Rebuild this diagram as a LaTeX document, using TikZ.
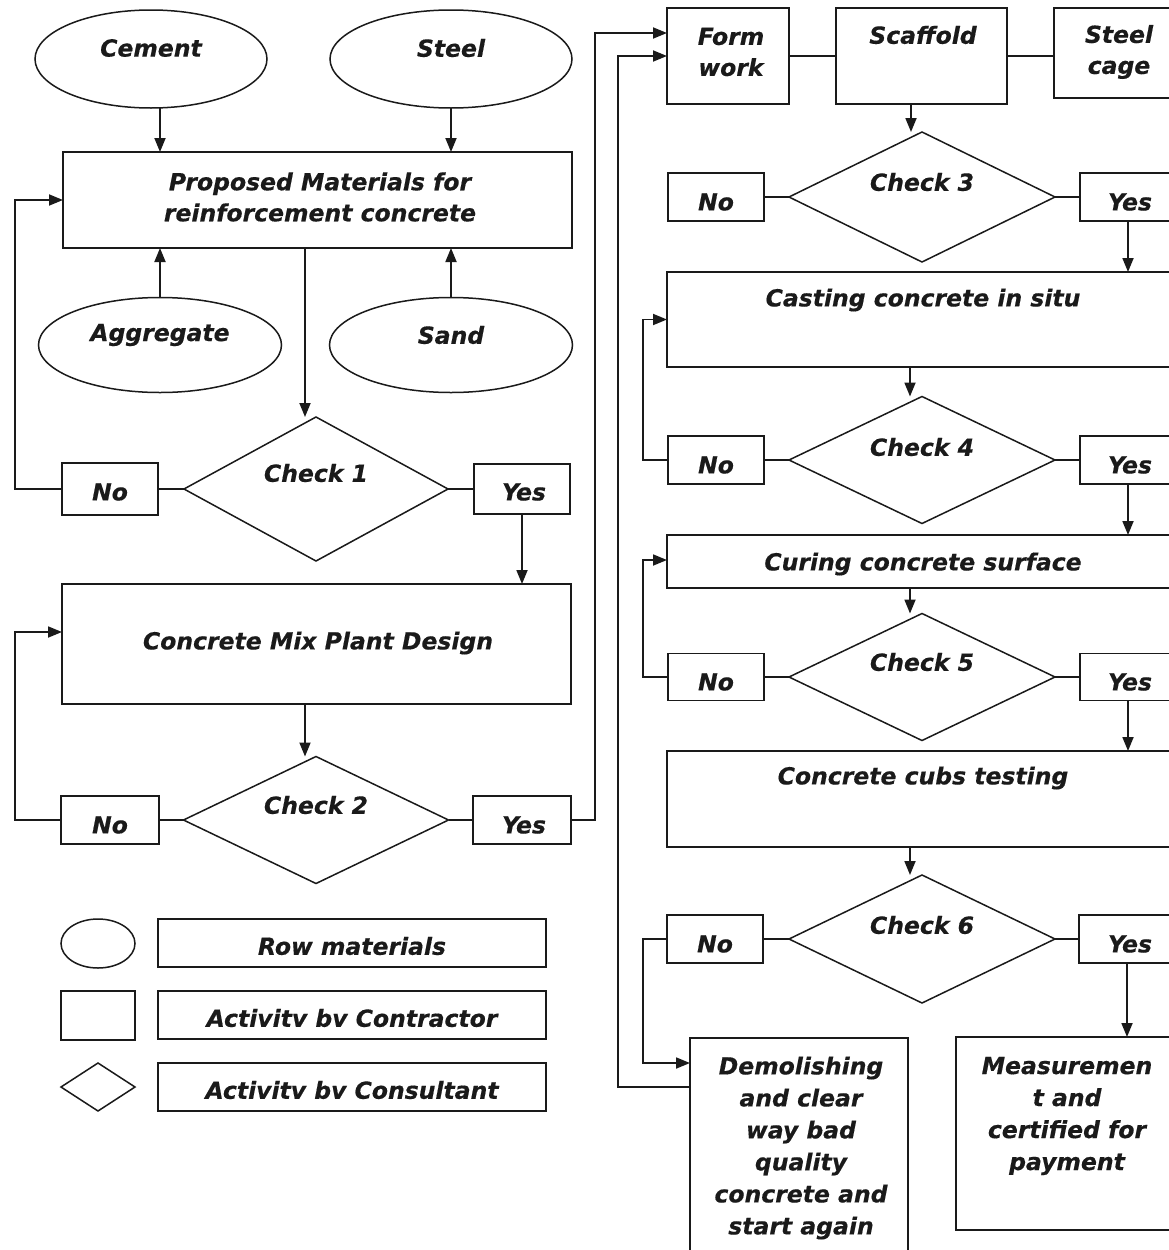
\documentclass[tikz,border=0pt]{standalone}
\usepackage{fontspec}
\setmainfont{DejaVu Sans}[BoldItalicFeatures={FakeBold=0.4}]
\usetikzlibrary{shapes.geometric,arrows.meta,calc}
\definecolor{ink}{HTML}{1A1A1A}
\begin{document}
\begin{tikzpicture}[x=1pt,y=-1pt,
  every node/.style={inner sep=0pt,outer sep=0pt},
  shp/.style={draw=ink,line width=1.8pt},
  box/.style={shp,rectangle},
  ell/.style={shp,ellipse,line width=1.5pt},
  dia/.style={shp,diamond,line width=1.5pt},
  txt/.style={font=\fontsize{23.5}{31}\selectfont\bfseries\itshape,text=ink,align=center},
  txtb/.style={txt,font=\fontsize{23.5}{32}\selectfont\bfseries\itshape},
  ln/.style={draw=ink,line width=1.8pt},
  arr/.style={ln,-{Triangle[length=14pt,width=11pt]}},
]
\useasboundingbox (0,0) rectangle (1169,1250);
\fill[white] (0,0) rectangle (1169,1250);
\clip (0,0) rectangle (1169,1250);

% ---------- left column ----------
\node[ell,minimum width=232,minimum height=98] (cement) at (151,59) {};
\node[ell,minimum width=242,minimum height=98] (steel) at (451,59) {};
\node[box,minimum width=509,minimum height=96] (prop) at (317.5,200) {};
\node[ell,minimum width=243,minimum height=95] (aggr) at (160,345) {};
\node[ell,minimum width=243,minimum height=95] (sand) at (451,345) {};
\node[dia,minimum width=264,minimum height=144] (c1) at (316,489) {};
\node[box,minimum width=96,minimum height=52] (no1) at (110,489) {};
\node[box,minimum width=96,minimum height=50] (yes1) at (522,489) {};
\node[box,minimum width=509,minimum height=120] (mix) at (316.5,644) {};
\node[dia,minimum width=265,minimum height=127] (c2) at (316,820) {};
\node[box,minimum width=98,minimum height=48] (no2) at (110,820) {};
\node[box,minimum width=98,minimum height=48] (yes2) at (522,820) {};

% legend
\node[ell,minimum width=74,minimum height=49] (lell) at (98,943.5) {};
\node[box,minimum width=388,minimum height=48] (lrow) at (352,943) {};
\node[box,minimum width=74,minimum height=49] (lsq) at (98,1015.5) {};
\node[box,minimum width=388,minimum height=48] (lcon) at (352,1015) {};
\node[dia,minimum width=74,minimum height=48] (ldia) at (98,1087) {};
\node[box,minimum width=388,minimum height=48] (lcons) at (352,1087) {};

% ---------- right column ----------
\node[box,minimum width=122,minimum height=96] (form) at (728,56) {};
\node[box,minimum width=171,minimum height=96] (scaf) at (921.5,56) {};
\node[box,minimum width=136,minimum height=90] (cage) at (1122,53) {};
\node[dia,minimum width=266,minimum height=130] (c3) at (922,197) {};
\node[box,minimum width=96,minimum height=48] (no3) at (716,197) {};
\node[box,minimum width=96,minimum height=48] (yes3) at (1128,197) {};
\node[box,minimum width=523,minimum height=95] (cast) at (928.5,319.5) {};
\node[dia,minimum width=266,minimum height=127] (c4) at (922,460) {};
\node[box,minimum width=96,minimum height=48] (no4) at (716,460) {};
\node[box,minimum width=96,minimum height=48] (yes4) at (1128,460) {};
\node[box,minimum width=523,minimum height=53] (cure) at (928.5,561.5) {};
\node[dia,minimum width=266,minimum height=127] (c5) at (922,677) {};
\node[box,minimum width=96,minimum height=47] (no5) at (716,677) {};
\node[box,minimum width=96,minimum height=47] (yes5) at (1128,677) {};
\node[box,minimum width=523,minimum height=96] (cubs) at (928.5,799) {};
\node[dia,minimum width=266,minimum height=128] (c6) at (922,939) {};
\node[box,minimum width=96,minimum height=48] (no6) at (715,939) {};
\node[box,minimum width=96,minimum height=48] (yes6) at (1127,939) {};
\node[box,minimum width=218,minimum height=232] (demo) at (799,1154) {};
\node[box,minimum width=234,minimum height=193] (meas) at (1073,1133.5) {};

% ---------- connectors, left ----------
\draw[arr] (cement.south -| aggr.north) -- (prop.north -| aggr.north);
\draw[arr] (steel.south) -- (steel.south |- prop.north);
\draw[arr] (aggr.north) -- (aggr.north |- prop.south);
\draw[arr] (sand.north) -- (sand.north |- prop.south);
\draw[arr] ([xshift=-11pt]c1.north |- prop.south) -- ([xshift=-11pt]c1.north);
\draw[ln] (c1.west) -- (no1.east);
\draw[ln] (c1.east) -- (yes1.west);
\draw[arr] (no1.west) -- ++(-47,0) |- (prop.west);
\draw[arr] (yes1.south) -- (yes1.south |- mix.north);
\draw[arr] ([xshift=-11pt]c2.north |- mix.south) -- ([xshift=-11pt]c2.north);
\draw[ln] (c2.west) -- (no2.east);
\draw[ln] (c2.east) -- (yes2.west);
\draw[arr] (no2.west) -- ++(-46,0) |- ([yshift=12pt]mix.west);
\draw[arr] (yes2.east) -- ++(24,0) |- ([yshift=23pt]form.west);
\draw[arr] ([yshift=67pt]demo.west) -- ++(-72,0) |- (form.west);

% ---------- connectors, right ----------
\draw[ln] (form.east) -- (scaf.west);
\draw[ln] (scaf.east) -- (scaf.east -| cage.west);
\draw[arr] ([xshift=-11pt]c3.north |- scaf.south) -- ([xshift=-11pt]c3.north);
\draw[ln] (c3.west) -- (no3.east);
\draw[ln] (c3.east) -- (yes3.west);
\draw[arr] (yes3.south) -- (yes3.south |- cast.north);
\draw[arr] ([xshift=-12pt]c4.north |- cast.south) -- ([xshift=-12pt]c4.north);
\draw[ln] (c4.west) -- (no4.east);
\draw[ln] (c4.east) -- (yes4.west);
\draw[arr] (no4.west) -- ++(-25,0) |- (cast.west);
\draw[arr] (yes4.south) -- (yes4.south |- cure.north);
\draw[arr] ([xshift=-12pt]c5.north |- cure.south) -- ([xshift=-12pt]c5.north);
\draw[ln] (c5.west) -- (no5.east);
\draw[ln] (c5.east) -- (yes5.west);
\draw[arr] (no5.west) -- ++(-25,0) |- ([yshift=1.5pt]cure.west);
\draw[arr] (yes5.south) -- (yes5.south |- cubs.north);
\draw[arr] ([xshift=-12pt]c6.north |- cubs.south) -- ([xshift=-12pt]c6.north);
\draw[ln] (c6.west) -- (no6.east);
\draw[ln] (c6.east) -- (yes6.west);
\draw[arr] (no6.west) -- ++(-24,0) |- ([yshift=91pt]demo.west);
\draw[arr] (yes6.south) -- (yes6.south |- meas.north);

% ---------- texts ----------
\node[txt] (tcement) at (151,48) {Cement};
\node[txt] (tsteel) at (451,48) {Steel};
\node[txt] (tprop) at (320,197) {Proposed Materials for\\reinforcement concrete};
\node[txt] (taggr) at (160,335) {Aggregate};
\node[txt] (tsand) at (451,335) {Sand};
\node[txt] (tc1) at (316,473) {Check 1};
\node[txt] (tno1) at (110,492) {No};
\node[txt] (tyes1) at (524,492) {Yes};
\node[txt] (tmix) at (318,643) {Concrete Mix Plant Design};
\node[txt] (tc2) at (316,805) {Check 2};
\node[txt] (tno2) at (110,825) {No};
\node[txt] (tyes2) at (524,825) {Yes};
\node[txt] (trow) at (352,946) {Row materials};
\node[txt] (tcon) at (352,1018) {Activitv bv Contractor};
\node[txt] (tcons) at (352,1090) {Activitv bv Consultant};

\node[txt] (tform) at (731,52) {Form\\work};
\node[txt] (tscaf) at (923,35) {Scaffold};
\node[txt] (tcage) at (1119,52) {Steel\\cage};
\node[txt] (tc3) at (922,182) {Check 3};
\node[txt] (tno3) at (716,202) {No};
\node[txt] (tyes3) at (1130,202) {Yes};
\node[txt] (tcast) at (923,300) {Casting concrete in situ};
\node[txt] (tc4) at (922,447) {Check 4};
\node[txt] (tno4) at (716,465) {No};
\node[txt] (tyes4) at (1130,465) {Yes};
\node[txt] (tcure) at (923,564) {Curing concrete surface};
\node[txt] (tc5) at (922,662) {Check 5};
\node[txt] (tno5) at (716,682) {No};
\node[txt] (tyes5) at (1130,682) {Yes};
\node[txt] (tcubs) at (923,778) {Concrete cubs testing};
\node[txt] (tc6) at (922,925) {Check 6};
\node[txt] (tno6) at (715,944) {No};
\node[txt] (tyes6) at (1130,944) {Yes};
\node[txtb] (tdemo) at (801,1148) {Demolishing\\and clear\\way bad\\quality\\concrete and\\start again};
\node[txtb] (tmeas) at (1067,1116) {Measuremen\\t and\\certified for\\payment};
\end{tikzpicture}
\end{document}
